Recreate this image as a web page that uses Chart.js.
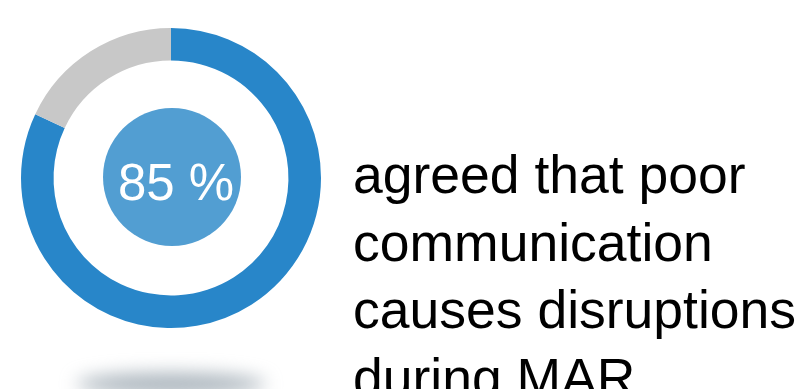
<!DOCTYPE html>
<html>
<head>
<meta charset="utf-8">
<script src="https://cdn.jsdelivr.net/npm/chart.js@4/dist/chart.umd.min.js"></script>
<style>
  html, body { margin: 0; padding: 0; background: #fff; width: 801px; height: 389px; overflow: hidden; }
  #wrap { position: relative; width: 801px; height: 389px; }
  #c { position: absolute; left: 0; top: 0; }
  #caption {
    position: absolute; left: 353px; top: 141px;
    font-family: "Liberation Sans", Arial, sans-serif; font-size: 53.5px; line-height: 67.5px;
    color: #000; white-space: nowrap;
  }
</style>
</head>
<body>
<div id="wrap">
  <canvas id="c" width="801" height="389"></canvas>
  <div id="caption"></div>
</div>
<script>
// ---- data ----
const segmentLabels = ["Agreed", "Did not agree"];
const segmentValues = [82, 18];           // arc sizes as drawn in the picture
const segmentColors = ["#2886C9", "#C8C8C8"];
const centerLabel = "85 %";
const captionLines = ["agreed that poor", "communication", "causes disruptions", "during MAR"];

document.getElementById("caption").innerHTML = captionLines.join("<br>");

const decorPlugin = {
  id: "decor",
  beforeDraw(chart) {
    const ctx = chart.ctx;
    const arc = chart.getDatasetMeta(0).data[0];
    const cx = arc.x, cy = arc.y, R = arc.outerRadius;
    // floating shadow under the ring
    ctx.save();
    ctx.filter = "blur(9px)";
    ctx.fillStyle = "rgba(150,163,173,0.8)";
    ctx.beginPath();
    ctx.ellipse(cx, cy + R + 56, R * 0.63, 11, 0, 0, Math.PI * 2);
    ctx.fill();
    ctx.restore();
  },
  afterDraw(chart) {
    const ctx = chart.ctx;
    const arc = chart.getDatasetMeta(0).data[0];
    const cx = arc.x, cy = arc.y, R = arc.outerRadius;
    ctx.save();
    ctx.fillStyle = "#529ED2";
    ctx.beginPath();
    ctx.arc(cx + 1, cy - 1, R * 0.46, 0, Math.PI * 2);
    ctx.fill();
    ctx.fillStyle = "#ffffff";
    ctx.font = '51px "Liberation Sans", Arial, sans-serif';
    ctx.textAlign = "center";
    ctx.textBaseline = "alphabetic";
    ctx.fillText(centerLabel, cx + 5, cy + 22);
    ctx.restore();
  }
};

new Chart(document.getElementById("c"), {
  type: "doughnut",
  data: {
    labels: segmentLabels,
    datasets: [{
      data: segmentValues,
      backgroundColor: segmentColors,
      borderWidth: 0,
      hoverOffset: 0
    }]
  },
  options: {
    responsive: false,
    animation: false,
    cutout: "78.3%",
    rotation: 0,
    layout: { padding: { left: 21, top: 28, right: 480, bottom: 61 } },
    plugins: { legend: { display: false }, tooltip: { enabled: false } },
    events: []
  },
  plugins: [decorPlugin]
});
</script>
</body>
</html>
